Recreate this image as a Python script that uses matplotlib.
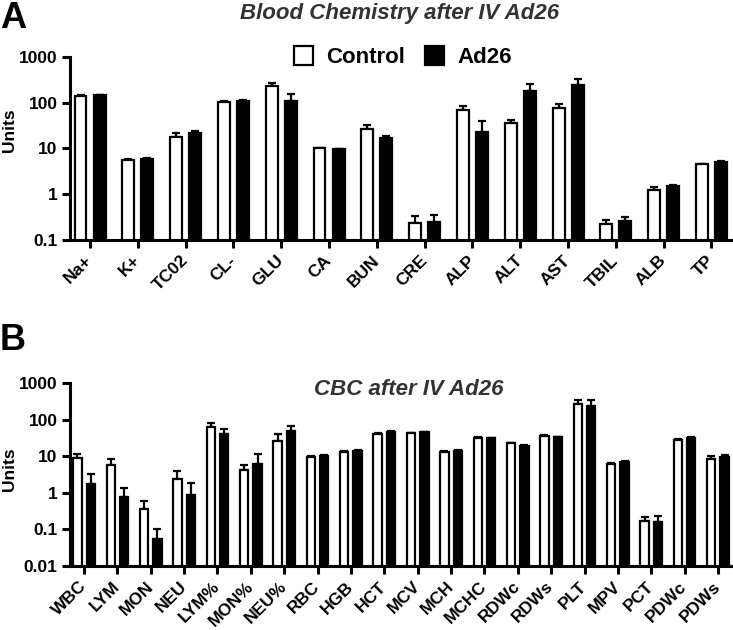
import matplotlib
matplotlib.use('Agg')
import matplotlib.pyplot as plt
import numpy as np
from matplotlib.patches import Patch

plt.rcParams['font.family'] = ['Liberation Sans', 'DejaVu Sans']
plt.rcParams['font.weight'] = 'bold'

# Panel A: blood chemistry (mean, upper SD)
labels_a = ['Na+', 'K+', 'TC02', 'CL-', 'GLU', 'CA', 'BUN', 'CRE', 'ALP', 'ALT', 'AST', 'TBIL', 'ALB', 'TP']
ctrl_a = [140, 5.6, 18, 106, 235, 10, 27, 0.23, 68, 36, 76, 0.22, 1.25, 4.5]
ctrl_a_sd = [5, 0.4, 3.5, 2, 40, 0.3, 6, 0.1, 18, 6, 17, 0.05, 0.2, 0.2]
ad26_a = [145, 5.9, 22, 110, 108, 9.6, 17, 0.25, 23, 185, 245, 0.26, 1.55, 5.0]
ad26_a_sd = [5, 0.3, 2.5, 2, 45, 0.3, 1.5, 0.1, 17, 75, 80, 0.06, 0.08, 0.2]

# Panel B: complete blood count
labels_b = ['WBC', 'LYM', 'MON', 'NEU', 'LYM%', 'MON%', 'NEU%', 'RBC', 'HGB', 'HCT', 'MCV', 'MCH',
            'MCHC', 'RDWc', 'RDWs', 'PLT', 'MPV', 'PCT', 'PDWc', 'PDWs']
ctrl_b = [8.8, 5.9, 0.37, 2.4, 64, 4.2, 26, 9.6, 13, 41.5, 42, 13.2, 31.5, 22.5, 35, 268, 6.2, 0.17, 28.5, 8.5]
ctrl_b_sd = [2.8, 2.6, 0.22, 1.5, 17, 1.7, 14, 0.4, 0.6, 2, 1.5, 0.4, 1, 1, 2, 80, 0.3, 0.05, 1.5, 1.5]
ad26_b = [1.7, 0.76, 0.054, 0.86, 40, 6.3, 48, 9.9, 14, 45, 45, 14, 31, 19.5, 33, 230, 6.9, 0.16, 31.5, 9.4]
ad26_b_sd = [1.5, 0.6, 0.05, 0.95, 17, 5.5, 18, 1, 0.8, 3, 1.5, 0.4, 0.8, 0.8, 1.5, 120, 0.4, 0.07, 1.5, 1.6]

W, H = 733, 630


def draw_panel(ax, labels, ctrl, ctrl_sd, ad26, ad26_sd, yticks, ytl, fs):
    x = np.arange(len(labels))
    ax.set_yscale('log')
    ax.bar(x - 0.2, ctrl, width=0.25, color='white', edgecolor='black', linewidth=1.6, zorder=2)
    ax.bar(x + 0.2, ad26, width=0.25, color='black', edgecolor='black', linewidth=1.6, zorder=2)
    ax.errorbar(x - 0.2, ctrl, yerr=[np.zeros(len(x)), ctrl_sd], fmt='none', ecolor='black',
                elinewidth=1.6, capsize=3, capthick=1.6, zorder=1)
    ax.errorbar(x + 0.2, ad26, yerr=[np.zeros(len(x)), ad26_sd], fmt='none', ecolor='black',
                elinewidth=1.6, capsize=3, capthick=1.6, zorder=1)
    ax.set_ylim(yticks[0], yticks[-1])
    ax.set_xlim(-0.42, len(labels) - 1 + 0.45)
    ax.set_yticks(yticks)
    ax.set_yticklabels(ytl)
    ax.yaxis.set_minor_locator(matplotlib.ticker.NullLocator())
    ax.set_xticks(x)
    ax.set_xticklabels(labels, rotation=45, ha='right', va='center', rotation_mode='anchor')
    for t in ax.get_yticklabels():
        t.set_fontsize(12.5)
        t.set_fontweight('heavy')
    for t in ax.get_xticklabels():
        t.set_fontsize(fs)
        t.set_fontweight('heavy')
    for s in ['top', 'right']:
        ax.spines[s].set_visible(False)
    for s in ['left', 'bottom']:
        ax.spines[s].set_linewidth(2.2)
    ax.tick_params(axis='both', width=2.2, length=6, pad=3)
    ax.tick_params(axis='x', pad=7)
    ax.set_ylabel('Units', fontsize=12.5, fontweight='heavy', va='center')


fig = plt.figure(figsize=(W / 100, H / 100), dpi=100)

ax_a = fig.add_axes([70 / W, 1 - 240 / H, 1 - 70 / W, 183 / H])
draw_panel(ax_a, labels_a, ctrl_a, ctrl_a_sd, ad26_a, ad26_a_sd,
           [0.1, 1, 10, 100, 1000], ['0.1', '1', '10', '100', '1000'], 12.5)
ax_a.yaxis.set_label_coords(-0.092, 0.6)

ax_b = fig.add_axes([70 / W, 1 - 566 / H, 1 - 70 / W, 183 / H])
draw_panel(ax_b, labels_b, ctrl_b, ctrl_b_sd, ad26_b, ad26_b_sd,
           [0.01, 0.1, 1, 10, 100, 1000], ['0.01', '0.1', '1', '10', '100', '1000'], 12.5)
ax_b.yaxis.set_label_coords(-0.092, 0.53)

fig.text(400 / W, 1 - 14 / H, 'Blood Chemistry after IV Ad26', ha='center', va='center',
         fontsize=16, fontweight='bold', style='italic', color='#333333')
ax_b.text(0.511, 0.965, 'CBC after IV Ad26', transform=ax_b.transAxes, ha='center', va='center',
          fontsize=16, fontweight='bold', style='italic', color='#333333')

fig.text(0, 1 - 19 / H, 'A', ha='left', va='center', fontsize=26, fontweight='bold')
fig.text(0, 1 - 340 / H, 'B', ha='left', va='center', fontsize=26, fontweight='bold')

handles = [Patch(facecolor='white', edgecolor='black', linewidth=1.6, label='Control'),
           Patch(facecolor='black', edgecolor='black', linewidth=1.6, label='Ad26')]
fig.legend(handles=handles, loc='center', bbox_to_anchor=(403 / W, 1 - 57 / H), ncol=2,
           frameon=False, prop={'size': 16, 'weight': 'bold'}, handlelength=0.85,
           handleheight=0.95, handletextpad=0.6, columnspacing=0.9)

fig.savefig('out.png', dpi=100)
